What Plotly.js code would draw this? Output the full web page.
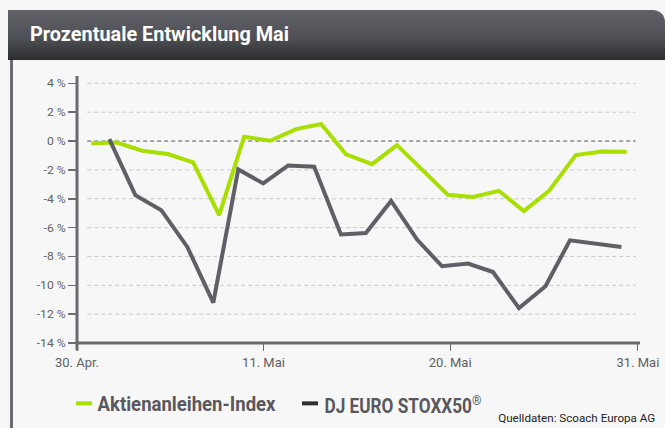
<!DOCTYPE html>
<html>
<head>
<meta charset="utf-8">
<script src="https://cdn.plot.ly/plotly-3.0.1.min.js"></script>
<style>
  html, body { margin: 0; padding: 0; background: #f7f7f7; }
  #wrap { position: relative; width: 665px; height: 428px; overflow: hidden; background: #f7f7f7; }
  #header {
    position: absolute; left: 8px; top: 10px; width: 657px; height: 50px;
    background: linear-gradient(to bottom, #616268 0%, #505156 55%, #2c2d2f 100%);
    border-top-right-radius: 12px;
  }
  #title {
    position: absolute; left: 22px; top: 12px; white-space: nowrap;
    color: #ffffff; font-family: Roboto, sans-serif;
    font-weight: bold; font-size: 20px; transform-origin: 0 0;
  }
  #leftborder { position: absolute; left: 10px; top: 60px; width: 3px; height: 368px; background: #6a6b70; }
  #chart { position: absolute; left: 0; top: 0; width: 665px; height: 428px; }
</style>
</head>
<body>
<div id="wrap">
  <div id="header"><span id="title">Prozentuale Entwicklung Mai</span></div>
  <div id="leftborder"></div>
  <div id="chart"></div>
</div>
<script>
// ---- data ----
const tickPositions = [0, 7.32, 14.65, 22.02];
const tickLabels = ["30. Apr.", "11. Mai", "20. Mai", "31. Mai"];
const yTicks = [4, 2, 0, -2, -4, -6, -8, -10, -12, -14];
const yTickLabels = ["4 %", "2 %", "0 %", "-2 %", "-4 %", "-6 %", "-8 %", "-10 %", "-12 %", "-14 %"];

const aktienX = [0.56, 1.56, 2.56, 3.56, 4.56, 5.58, 6.56, 7.58, 8.6, 9.58, 10.56, 11.58, 12.56, 13.54, 14.56, 15.54, 16.56, 17.54, 18.52, 19.58, 20.6, 21.58];
const aktienY = [-0.16, -0.1, -0.67, -0.9, -1.48, -5.14, 0.3, 0.02, 0.83, 1.18, -0.92, -1.6, -0.28, -2.0, -3.73, -3.87, -3.45, -4.86, -3.47, -0.97, -0.72, -0.74];

const stoxxX = [1.27, 2.29, 3.31, 4.33, 5.35, 6.33, 7.31, 8.29, 9.31, 10.36, 11.34, 12.33, 13.35, 14.33, 15.35, 16.33, 17.35, 18.39, 19.35, 20.37, 21.37];
const stoxxY = [0.14, -3.75, -4.79, -7.34, -11.2, -1.97, -2.94, -1.69, -1.78, -6.48, -6.37, -4.15, -6.83, -8.68, -8.49, -9.08, -11.58, -10.07, -6.88, -7.1, -7.34];

const seriesNames = ["Aktienanleihen-Index", "DJ EURO STOXX50\u00AE"];
const sourceText = "Quelldaten: Scoach Europa AG";

// ---- styling ----
const FONT = 'Roboto, sans-serif';
const GREEN = '#a8df00';
const GRAY = '#5f5f66';
const AXIS = '#6a6b70';

const traces = [
  { x: aktienX, y: aktienY, type: 'scatter', mode: 'lines', name: seriesNames[0],
    line: { color: GREEN, width: 4 }, hoverinfo: 'skip' },
  { x: stoxxX, y: stoxxY, type: 'scatter', mode: 'lines', name: seriesNames[1],
    line: { color: GRAY, width: 4 }, hoverinfo: 'skip' }
];

const shapes = [];
yTicks.forEach(v => {
  if (v === -14) return;
  shapes.push({ type: 'line', xref: 'x', yref: 'y', x0: 0.4, x1: 21.93, y0: v, y1: v, layer: 'below',
    line: { color: v === 0 ? '#555555' : '#c9c9c9', width: 1, dash: '4px,3px' } });
});
shapes.push({ type: 'line', xref: 'paper', yref: 'paper', x0: 0, x1: 0, y0: -0.028, y1: 1,
  line: { color: AXIS, width: 3 } });
shapes.push({ type: 'line', xref: 'paper', yref: 'paper', x0: 0, x1: 1, y0: 0, y1: 0,
  line: { color: AXIS, width: 3 } });

function px(x) { return (x - 77) / 563; }
function py(y) { return (342.7 - y) / 266.7; }
// legend swatches
shapes.push({ type: 'line', xref: 'paper', yref: 'paper', x0: px(76), x1: px(92), y0: py(403), y1: py(403),
  line: { color: GREEN, width: 4 } });
shapes.push({ type: 'line', xref: 'paper', yref: 'paper', x0: px(302), x1: px(318), y0: py(403), y1: py(403),
  line: { color: '#2e2e30', width: 4 } });

const annotations = [
  { xref: 'paper', yref: 'paper', x: px(186), y: py(404.5), xanchor: 'center', yanchor: 'middle',
    text: '<b>' + seriesNames[0] + '</b>', showarrow: false,
    font: { family: FONT, size: 19.5, color: '#58585e' } },
  { xref: 'paper', yref: 'paper', x: px(403), y: py(404.5), xanchor: 'center', yanchor: 'middle',
    text: '<b>DJ EURO STOXX50</b><sup>\u00AE</sup>', showarrow: false,
    font: { family: FONT, size: 19.5, color: '#58585e' } },
  { xref: 'paper', yref: 'paper', x: px(576.5), y: py(417.5), xanchor: 'center', yanchor: 'middle',
    text: sourceText, showarrow: false,
    font: { family: FONT, size: 11.5, color: '#222222' } }
];

const layout = {
  width: 665, height: 428,
  margin: { l: 77, r: 25, t: 76, b: 85.3, pad: 0 },
  paper_bgcolor: 'rgba(0,0,0,0)',
  plot_bgcolor: 'rgba(0,0,0,0)',
  showlegend: false,
  xaxis: {
    type: 'linear', range: [0, 22.1], showgrid: false, zeroline: false, showline: false,
    tickmode: 'array', tickvals: tickPositions, ticktext: tickLabels,
    ticks: 'outside', ticklen: 7, tickwidth: 1, tickcolor: AXIS,
    tickfont: { family: FONT, size: 13.5, color: '#5f5f63' }, fixedrange: true
  },
  yaxis: {
    type: 'linear', range: [-14, 4.51], showgrid: false, zeroline: false, showline: false,
    tickmode: 'array', tickvals: yTicks, ticktext: yTickLabels,
    ticks: 'outside', ticklen: 8, tickwidth: 1.5, tickcolor: AXIS, ticklabelstandoff: 0,
    tickfont: { family: FONT, size: 11.5, color: '#5f5f63' }, fixedrange: true
  },
  shapes: shapes,
  annotations: annotations
};

function squeeze(el, target) {
  if (el.getComputedTextLength() > 0) {
    el.setAttribute('textLength', target);
    el.setAttribute('lengthAdjust', 'spacingAndGlyphs');
  }
}
function squeezeAxis(gd, sel, refText, refWidth) {
  const els = Array.from(gd.querySelectorAll(sel));
  const ref = els.find(t => t.textContent === refText);
  if (!ref) return;
  const f = refWidth / ref.getComputedTextLength();
  els.forEach(t => squeeze(t, t.getComputedTextLength() * f));
}

Plotly.newPlot('chart', traces, layout, { displayModeBar: false, staticPlot: true }).then(gd => {
  // condensed look, like the original DIN-style typeface
  squeezeAxis(gd, '.xtick text', '30. Apr.', 44);
  squeezeAxis(gd, '.ytick text', '-14 %', 29);
  const targets = [178, 157, 157];
  gd.querySelectorAll('.annotation-text').forEach((t, i) => squeeze(t, targets[i]));
  const title = document.getElementById('title');
  const w = title.getBoundingClientRect().width;
  title.style.transform = 'scaleX(' + (259 / w) + ')';
});
</script>
</body>
</html>
